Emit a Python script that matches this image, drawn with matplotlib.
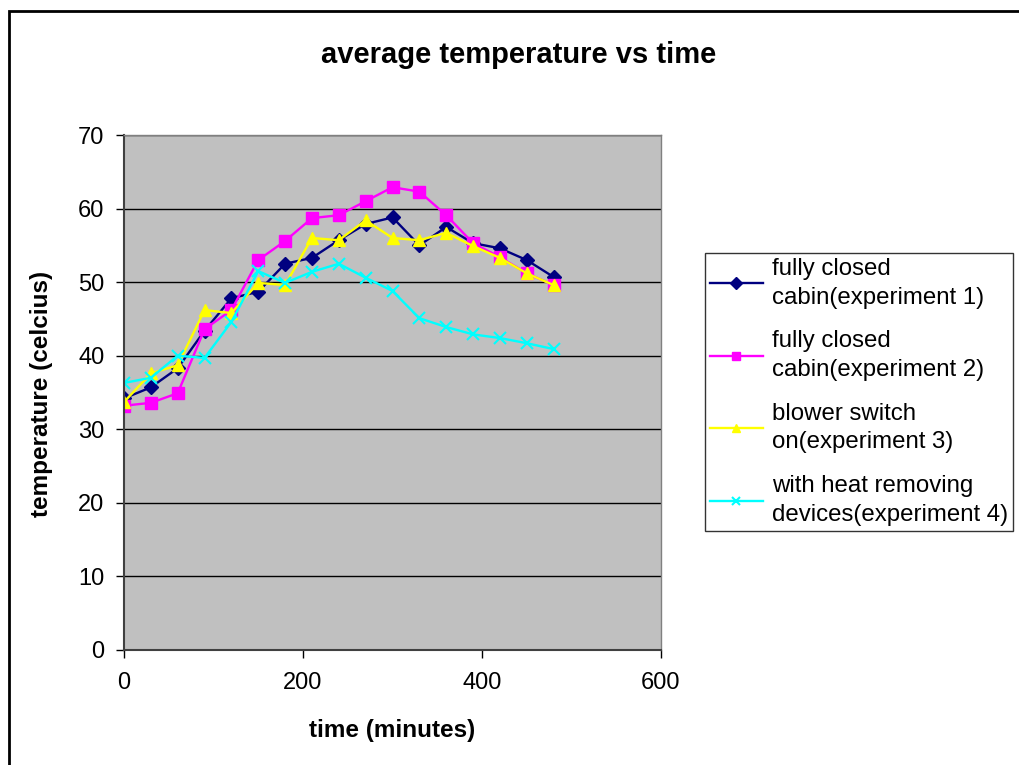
import matplotlib.pyplot as plt
from matplotlib.patches import Rectangle

plt.rcParams['font.family'] = ['Liberation Sans', 'DejaVu Sans']

time_min = [0, 30, 60, 90, 120, 150, 180, 210, 240, 270, 300, 330, 360, 390, 420, 450, 480]

exp1 = [34.2, 35.7, 38.3, 43.4, 47.8, 48.7, 52.5, 53.3, 55.7, 57.9, 58.8, 55.0, 57.5, 55.3, 54.6, 53.0, 50.7]
exp2 = [33.2, 33.6, 34.9, 43.6, 46.2, 53.0, 55.6, 58.7, 59.1, 61.0, 62.9, 62.3, 59.1, 55.3, 53.4, 51.2, 49.6]
exp3 = [33.7, 37.6, 38.7, 46.2, 45.8, 49.9, 49.6, 56.0, 55.7, 58.4, 56.0, 55.7, 56.7, 54.9, 53.3, 51.2, 49.6]
exp4 = [36.3, 37.0, 40.0, 39.7, 44.6, 51.5, 49.9, 51.4, 52.5, 50.6, 48.8, 45.1, 43.9, 42.9, 42.4, 41.7, 40.9]

labels = ['fully closed\ncabin(experiment 1)',
          'fully closed\ncabin(experiment 2)',
          'blower switch\non(experiment 3)',
          'with heat removing\ndevices(experiment 4)']

fig = plt.figure(figsize=(10.19, 7.65), dpi=100)
# outer chart border (only left and top edges visible)
fig.patches.append(Rectangle((9 / 1019, -0.1), 1.2, (765 - 11) / 765 + 0.1,
                             transform=fig.transFigure, fill=False,
                             edgecolor='black', linewidth=2))

ax = fig.add_axes([124 / 1019, (765 - 650) / 765, 537 / 1019, 515 / 765])
ax.set_facecolor('#c0c0c0')

ax.plot(time_min, exp1, color='#000080', marker='D', markersize=7, linewidth=1.7, label=labels[0])
ax.plot(time_min, exp2, color='#ff00ff', marker='s', markersize=8, linewidth=1.7, label=labels[1])
ax.plot(time_min, exp3, color='#ffff00', marker='^', markersize=9, linewidth=1.7, label=labels[2])
ax.plot(time_min, exp4, color='#00ffff', marker='x', markersize=9, markeredgewidth=1.5,
        linewidth=1.7, label=labels[3])

ax.set_xlim(0, 600)
ax.set_ylim(0, 70)
ax.set_xticks([0, 200, 400, 600])
ax.set_yticks(range(0, 71, 10))
ax.yaxis.grid(True, color='black', linewidth=1)
ax.set_axisbelow(True)
ax.tick_params(labelsize=17, length=6, width=1, colors='black', pad=8)
ax.tick_params(axis='x', pad=10)

for s in ['top', 'right']:
    ax.spines[s].set_color('#808080')
    ax.spines[s].set_linewidth(1)
for s in ['left', 'bottom']:
    ax.spines[s].set_color('#404040')
    ax.spines[s].set_linewidth(1.5)

fig.text(519 / 1019, 1 - 55 / 765, 'average temperature vs time', ha='center', va='center',
         fontsize=21, fontweight='bold')
fig.text(392 / 1019, 1 - 730 / 765, 'time (minutes)', ha='center', va='center',
         fontsize=17.5, fontweight='bold')
fig.text(42 / 1019, 1 - 394 / 765, 'temperature (celcius)', ha='center', va='center',
         rotation=90, fontsize=17.5, fontweight='bold')

leg = ax.legend(loc='upper left', bbox_to_anchor=(705 / 1019, 1 - 253 / 765),
                bbox_transform=fig.transFigure, fontsize=17.3, frameon=True,
                fancybox=False, edgecolor='black', handlelength=2.2,
                handletextpad=0.4, labelspacing=0.9, borderpad=0.2,
                borderaxespad=0)
leg.get_frame().set_linewidth(1)
for t in leg.get_texts():
    t.set_linespacing(1.4)
for h in leg.legend_handles:
    h.set_markersize(6)

fig.savefig('out.png', dpi=100)
